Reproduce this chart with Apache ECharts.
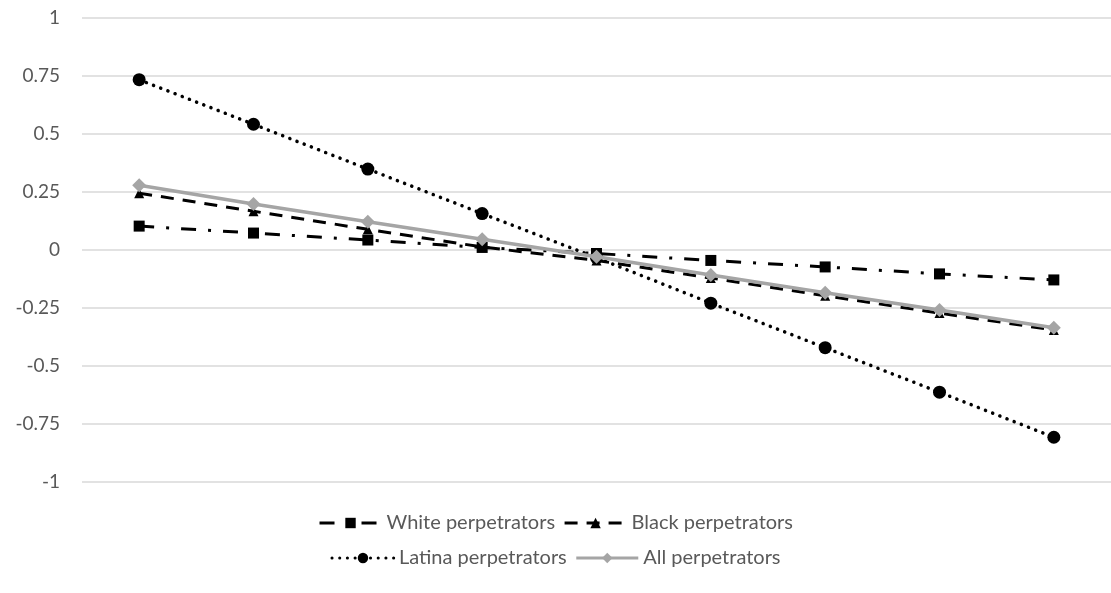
<!DOCTYPE html>
<html>
<head>
<meta charset="utf-8">
<script src="https://cdn.jsdelivr.net/npm/echarts@6/dist/echarts.min.js"></script>
<style>
  html, body { margin: 0; padding: 0; background: #fff; }
  #chart { width: 1111px; height: 593px; }
</style>
</head>
<body>
<div id="chart"></div>
<script>
// Nine evenly spaced points along the x axis (unlabelled)
const categories = ['1', '2', '3', '4', '5', '6', '7', '8', '9'];

const whitePerpetrators  = [0.103, 0.073, 0.043, 0.011, -0.015, -0.045, -0.073, -0.103, -0.129];
const blackPerpetrators  = [0.245, 0.167, 0.089, 0.013, -0.045, -0.121, -0.197, -0.272, -0.345];
const latinaPerpetrators = [0.734, 0.542, 0.349, 0.157, -0.033, -0.229, -0.421, -0.613, -0.807];
const allPerpetrators    = [0.279, 0.198, 0.122, 0.046, -0.029, -0.108, -0.184, -0.259, -0.335];

const yTicks = { min: -1, max: 1, interval: 0.25 };

const textColor = '#595959';
const fontFamily = 'Lato, "Open Sans", sans-serif';

const chart = echarts.init(document.getElementById('chart'), null, { renderer: 'canvas' });

function legendRow(names, top) {
  return {
    data: names,
    top: top,
    left: 'center',
    itemWidth: 62,
    itemHeight: 13,
    itemGap: 8,
    lineStyle: { width: 3 },
    textStyle: { color: textColor, fontSize: 20, fontFamily: fontFamily },
    inactiveColor: '#ccc'
  };
}

chart.setOption({
  animation: false,
  backgroundColor: '#fff',
  grid: { left: 82, top: 18, width: 1033, height: 464 },
  legend: [
    legendRow(['White perpetrators', 'Black perpetrators'], 508),
    legendRow(['Latina perpetrators', 'All perpetrators'], 543)
  ],
  xAxis: {
    type: 'category',
    data: categories,
    boundaryGap: true,
    axisLine: { show: false },
    axisTick: { show: false },
    axisLabel: { show: false },
    splitLine: { show: false }
  },
  yAxis: {
    type: 'value',
    min: yTicks.min,
    max: yTicks.max,
    interval: yTicks.interval,
    axisLine: { show: false },
    axisTick: { show: false },
    axisLabel: {
      color: textColor,
      fontSize: 19,
      fontFamily: fontFamily,
      margin: 22
    },
    splitLine: { lineStyle: { color: '#d9d9d9', width: 1.5 } }
  },
  series: [
    {
      name: 'White perpetrators',
      type: 'line',
      data: whitePerpetrators,
      symbol: 'rect',
      symbolSize: 11,
      itemStyle: { color: '#000' },
      lineStyle: { color: '#000', width: 3, type: [15, 12, 3, 12] },
      z: 2
    },
    {
      name: 'Black perpetrators',
      type: 'line',
      data: blackPerpetrators,
      symbol: 'triangle',
      symbolSize: 10,
      itemStyle: { color: '#000' },
      lineStyle: { color: '#000', width: 3, type: [13, 9] },
      z: 3
    },
    {
      name: 'Latina perpetrators',
      type: 'line',
      data: latinaPerpetrators,
      symbol: 'circle',
      symbolSize: 13,
      itemStyle: { color: '#000' },
      lineStyle: { color: '#000', width: 3.5, type: [0.1, 7.6], cap: 'round' },
      z: 4
    },
    {
      name: 'All perpetrators',
      type: 'line',
      data: allPerpetrators,
      symbol: 'diamond',
      symbolSize: 14,
      itemStyle: { color: '#a5a5a5' },
      lineStyle: { color: '#a5a5a5', width: 3.5, type: 'solid' },
      z: 5
    }
  ]
});
</script>
</body>
</html>
